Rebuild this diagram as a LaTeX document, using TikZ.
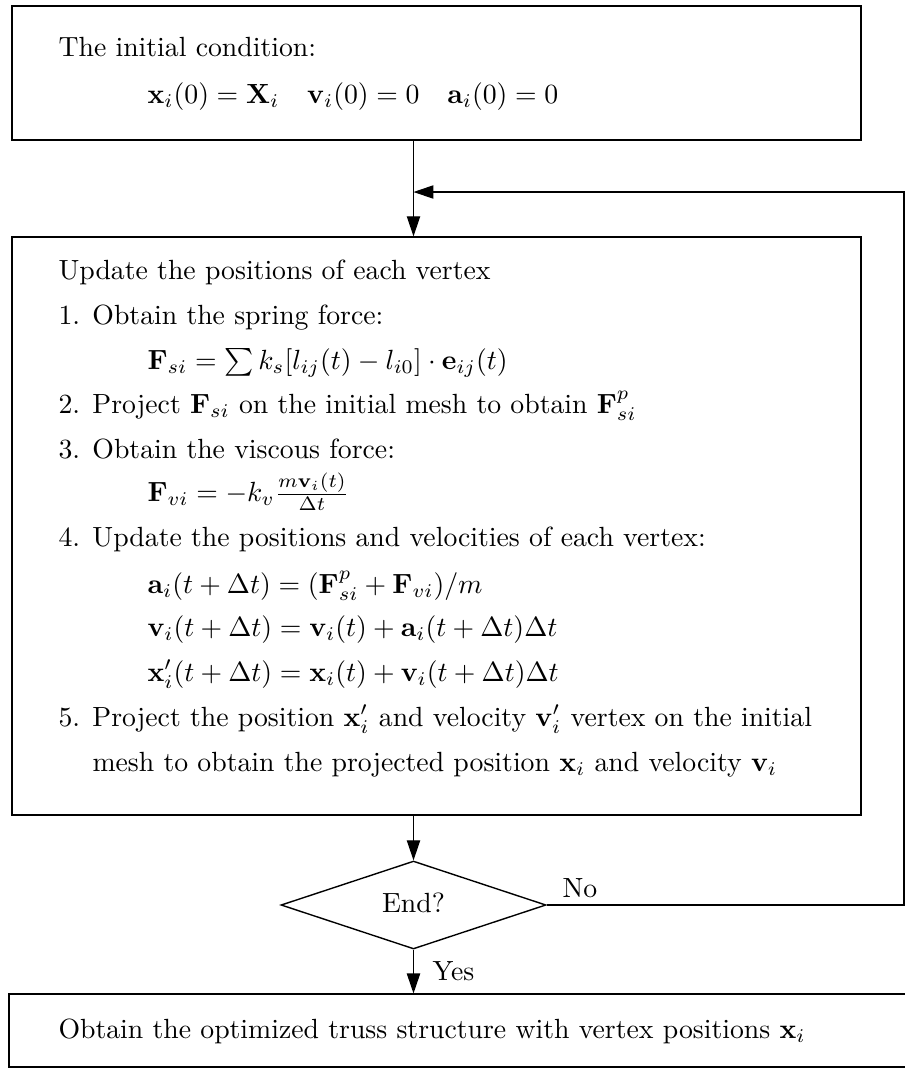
\documentclass[tikz,border=0pt]{standalone}
\usetikzlibrary{arrows.meta,shapes.geometric,fit}
\begin{document}
\begin{tikzpicture}[x=0.3604pt,y=-0.3604pt,
  boxst/.style={draw,line width=0.5pt,inner sep=0pt},
  txt/.style={anchor=base west,inner sep=0pt},
  arr/.style={line width=0.4pt,-{Triangle[length=7.2pt,width=4.8pt]}},
  plain/.style={line width=0.4pt}]
\path[use as bounding box] (0,0) rectangle (905,1068);
% boxes
\node[boxst,fit={(12,6) (861,140)}] (box1) {};
\node[boxst,fit={(12,237) (861,815)}] (box2) {};
\draw[line width=0.5pt] (930,994) -- (9,994) -- (9,1067) -- (930,1067);
\node[inner sep=0pt,fit={(9,994) (930,1067)}] (box3) {};
\node[draw,line width=0.5pt,diamond,inner sep=0pt,minimum width=95.5pt,minimum height=31.7pt] (d) at (413.5,905) {};
% coordinates
\coordinate (ax) at (413.5,0);
\coordinate (rx) at (904,0);
\coordinate (join) at (413.5,192);
% texts box1
\node[txt] (t1) at (58,56) {The initial condition:};
\node[txt] (t2) at (147,103) {$\mathbf{x}_i(0)=\mathbf{X}_i\quad \mathbf{v}_i(0)=0\quad \mathbf{a}_i(0)=0$};
% texts box2
\node[txt] (u0) at (58,279) {Update the positions of each vertex};
\node[txt] (u1) at (58,324) {1. Obtain the spring force:};
\node[txt] (u1f) at (147,369) {$\mathbf{F}_{si}=\sum k_s[l_{ij}(t)-l_{i0}]\cdot\mathbf{e}_{ij}(t)$};
\node[txt] (u2) at (58,413) {2. Project $\mathbf{F}_{si}$ on the initial mesh to obtain $\mathbf{F}^p_{si}$};
\node[txt] (u3) at (58,458) {3. Obtain the viscous force:};
\node[txt] (u3f) at (147,501) {$\mathbf{F}_{vi}=-k_v\frac{m\mathbf{v}_i(t)}{\Delta t}$};
\node[txt] (u4) at (58,546) {4. Update the positions and velocities of each vertex:};
\node[txt] (u4a) at (147,593) {$\mathbf{a}_i(t+\Delta t)=(\mathbf{F}^p_{si}+\mathbf{F}_{vi})/m$};
\node[txt] (u4b) at (147,636) {$\mathbf{v}_i(t+\Delta t)=\mathbf{v}_i(t)+\mathbf{a}_i(t+\Delta t)\Delta t$};
\node[txt] (u4c) at (147,681) {$\mathbf{x}'_i(t+\Delta t)=\mathbf{x}_i(t)+\mathbf{v}_i(t+\Delta t)\Delta t$};
\node[txt] (u5) at (58,726) {5. Project the position $\mathbf{x}'_i$ and velocity $\mathbf{v}'_i$ vertex on the initial};
\node[txt] (u5b) at (92,771) {mesh to obtain the projected position $\mathbf{x}_i$ and velocity $\mathbf{v}_i$};
% decision
\node[anchor=base,inner sep=0pt] (endq) at (413.5,912) {End?};
\node[txt] (no) at (562,897) {No};
\node[txt] (yes) at (432,980) {Yes};
% box3 text
\node[txt] (b3) at (58,1038) {Obtain the optimized truss structure with vertex positions $\mathbf{x}_i$};
% connectors
\draw[arr] (box1.south -| ax) -- (box2.north -| ax);
\draw[arr] (box2.south -| ax) -- (d.north);
\draw[arr] (d.south) -- (box3.north -| ax);
\draw[arr] (d.east) -- (d.east -| rx) |- (join);
\end{tikzpicture}
\end{document}
